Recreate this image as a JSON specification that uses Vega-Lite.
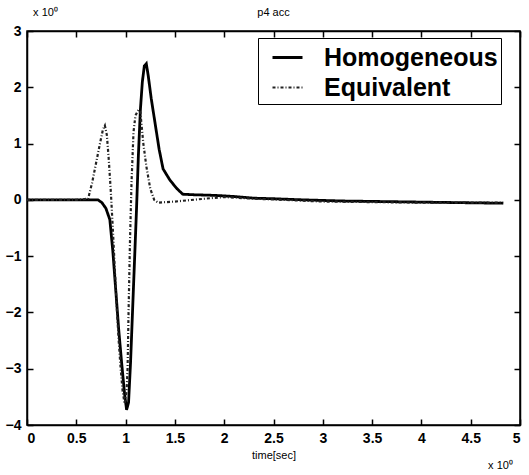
{
  "$schema": "https://vega.github.io/schema/vega-lite/v6.json",
  "width": 493,
  "height": 394,
  "autosize": "none",
  "padding": {"left": 27, "top": 31, "right": 9, "bottom": 50},
  "background": "white",
  "config": {
    "view": {"stroke": "black", "strokeWidth": 1.5},
    "font": "Liberation Sans",
    "axis": {"grid": false, "domainColor": "black", "domainWidth": 1.5, "tickColor": "black", "tickWidth": 1.5, "tickSize": -6, "labelColor": "black", "labelFont": "Liberation Sans", "labelFontSize": 14, "labelFontWeight": "bold", "titleFont": "Liberation Sans", "titleFontWeight": "normal", "titleColor": "black", "titleFontSize": 11}
  },
  "title": {"text": "p4 acc", "fontSize": 11, "fontWeight": "normal", "font": "Liberation Sans", "color": "black", "offset": -12, "anchor": "middle"},
  "data": {"values": [
    {"series": "Homogeneous", "t": 0, "v": 0},
    {"series": "Homogeneous", "t": 0.5, "v": 0},
    {"series": "Homogeneous", "t": 0.72, "v": 0},
    {"series": "Homogeneous", "t": 0.76, "v": -0.05},
    {"series": "Homogeneous", "t": 0.8, "v": -0.15},
    {"series": "Homogeneous", "t": 0.84, "v": -0.35},
    {"series": "Homogeneous", "t": 0.87, "v": -0.9},
    {"series": "Homogeneous", "t": 0.9, "v": -1.6},
    {"series": "Homogeneous", "t": 0.93, "v": -2.3},
    {"series": "Homogeneous", "t": 0.96, "v": -2.9},
    {"series": "Homogeneous", "t": 0.99, "v": -3.45},
    {"series": "Homogeneous", "t": 1.01, "v": -3.73},
    {"series": "Homogeneous", "t": 1.03, "v": -3.6},
    {"series": "Homogeneous", "t": 1.05, "v": -2.9},
    {"series": "Homogeneous", "t": 1.07, "v": -2.0},
    {"series": "Homogeneous", "t": 1.09, "v": -1.1},
    {"series": "Homogeneous", "t": 1.11, "v": -0.2},
    {"series": "Homogeneous", "t": 1.13, "v": 0.8},
    {"series": "Homogeneous", "t": 1.15, "v": 1.6},
    {"series": "Homogeneous", "t": 1.17, "v": 2.1},
    {"series": "Homogeneous", "t": 1.19, "v": 2.38},
    {"series": "Homogeneous", "t": 1.21, "v": 2.42},
    {"series": "Homogeneous", "t": 1.23, "v": 2.2},
    {"series": "Homogeneous", "t": 1.26, "v": 1.8},
    {"series": "Homogeneous", "t": 1.3, "v": 1.35},
    {"series": "Homogeneous", "t": 1.34, "v": 0.9},
    {"series": "Homogeneous", "t": 1.38, "v": 0.55},
    {"series": "Homogeneous", "t": 1.45, "v": 0.35},
    {"series": "Homogeneous", "t": 1.52, "v": 0.2},
    {"series": "Homogeneous", "t": 1.58, "v": 0.1},
    {"series": "Homogeneous", "t": 1.7, "v": 0.09},
    {"series": "Homogeneous", "t": 1.9, "v": 0.08},
    {"series": "Homogeneous", "t": 2.1, "v": 0.06},
    {"series": "Homogeneous", "t": 2.3, "v": 0.03},
    {"series": "Homogeneous", "t": 2.5, "v": 0.02},
    {"series": "Homogeneous", "t": 2.8, "v": 0.0},
    {"series": "Homogeneous", "t": 3.2, "v": -0.02},
    {"series": "Homogeneous", "t": 3.6, "v": -0.03},
    {"series": "Homogeneous", "t": 4.0, "v": -0.04},
    {"series": "Homogeneous", "t": 4.4, "v": -0.05},
    {"series": "Homogeneous", "t": 4.83, "v": -0.06},
    {"series": "Equivalent", "t": 0, "v": 0},
    {"series": "Equivalent", "t": 0.5, "v": 0},
    {"series": "Equivalent", "t": 0.62, "v": 0.02},
    {"series": "Equivalent", "t": 0.66, "v": 0.3},
    {"series": "Equivalent", "t": 0.7, "v": 0.65},
    {"series": "Equivalent", "t": 0.74, "v": 1.0},
    {"series": "Equivalent", "t": 0.77, "v": 1.25},
    {"series": "Equivalent", "t": 0.79, "v": 1.32},
    {"series": "Equivalent", "t": 0.81, "v": 1.15},
    {"series": "Equivalent", "t": 0.83, "v": 0.7},
    {"series": "Equivalent", "t": 0.85, "v": 0.15},
    {"series": "Equivalent", "t": 0.87, "v": -0.5},
    {"series": "Equivalent", "t": 0.89, "v": -1.2},
    {"series": "Equivalent", "t": 0.91, "v": -1.9},
    {"series": "Equivalent", "t": 0.93, "v": -2.5},
    {"series": "Equivalent", "t": 0.95, "v": -3.0},
    {"series": "Equivalent", "t": 0.97, "v": -3.4},
    {"series": "Equivalent", "t": 0.99, "v": -3.62},
    {"series": "Equivalent", "t": 1.01, "v": -3.4},
    {"series": "Equivalent", "t": 1.02, "v": -3.0},
    {"series": "Equivalent", "t": 1.03, "v": -2.0},
    {"series": "Equivalent", "t": 1.045, "v": -0.7},
    {"series": "Equivalent", "t": 1.06, "v": 0.3},
    {"series": "Equivalent", "t": 1.08, "v": 1.2},
    {"series": "Equivalent", "t": 1.1, "v": 1.5},
    {"series": "Equivalent", "t": 1.13, "v": 1.6},
    {"series": "Equivalent", "t": 1.15, "v": 1.55},
    {"series": "Equivalent", "t": 1.18, "v": 1.0},
    {"series": "Equivalent", "t": 1.21, "v": 0.6},
    {"series": "Equivalent", "t": 1.25, "v": 0.2},
    {"series": "Equivalent", "t": 1.29, "v": 0.0},
    {"series": "Equivalent", "t": 1.33, "v": -0.05},
    {"series": "Equivalent", "t": 1.5, "v": -0.03},
    {"series": "Equivalent", "t": 1.8, "v": 0.02},
    {"series": "Equivalent", "t": 2.0, "v": 0.05},
    {"series": "Equivalent", "t": 2.3, "v": 0.02},
    {"series": "Equivalent", "t": 2.6, "v": 0.0},
    {"series": "Equivalent", "t": 3.0, "v": -0.03},
    {"series": "Equivalent", "t": 3.5, "v": -0.04},
    {"series": "Equivalent", "t": 4.0, "v": -0.05},
    {"series": "Equivalent", "t": 4.83, "v": -0.05}
  ]},
  "layer": [
    {
      "mark": {"type": "line", "interpolate": "linear"},
      "encoding": {
        "x": {"field": "t", "type": "quantitative", "scale": {"domain": [0, 5], "nice": false}, "axis": {"values": [0, 0.5, 1, 1.5, 2, 2.5, 3, 3.5, 4, 4.5, 5], "format": "~g", "labelPadding": 12, "title": "time[sec]", "titlePadding": 4}},
        "y": {"field": "v", "type": "quantitative", "scale": {"domain": [-4, 3], "nice": false}, "axis": {"values": [-4, -3, -2, -1, 0, 1, 2, 3], "format": "~g", "labelPadding": 12, "title": "x 10⁰", "titleAngle": 0, "titleX": 18, "titleY": -19, "titleAlign": "center", "titleBaseline": "middle"}},
        "color": {"field": "series", "type": "nominal", "sort": ["Homogeneous", "Equivalent"], "scale": {"domain": ["Homogeneous", "Equivalent"], "range": ["#000000", "#222222"]}, "title": null},
        "strokeDash": {"field": "series", "type": "nominal", "sort": ["Homogeneous", "Equivalent"], "scale": {"domain": ["Homogeneous", "Equivalent"], "range": [[1, 0], [3, 2, 1, 2]]}, "title": null},
        "strokeWidth": {"field": "series", "type": "nominal", "sort": ["Homogeneous", "Equivalent"], "scale": {"domain": ["Homogeneous", "Equivalent"], "range": [2.8, 2.2]}, "title": null, "legend": {"orient": "none", "legendX": 231, "legendY": 7, "strokeColor": "black", "fillColor": "white", "padding": 3, "symbolOffset": 10, "symbolType": "stroke", "symbolSize": 900, "labelFontSize": 25, "labelFontWeight": "bold", "labelFont": "Liberation Sans", "labelColor": "black", "labelLimit": 400, "rowPadding": -3, "labelOffset": 20, "symbolStrokeColor": "black"}}
      }
    },
    {
      "mark": {"type": "line", "strokeOpacity": 0},
      "encoding": {
        "x": {"field": "t", "type": "quantitative", "scale": {"domain": [0, 5], "nice": false}, "axis": {"orient": "top", "values": [0, 0.5, 1, 1.5, 2, 2.5, 3, 3.5, 4, 4.5, 5], "labels": false, "title": "x 10⁰", "titleAngle": 0, "titleX": 473, "titleY": 434, "titleAlign": "center", "titleBaseline": "middle"}},
        "y": {"field": "v", "type": "quantitative", "scale": {"domain": [-4, 3], "nice": false}, "axis": {"orient": "right", "values": [-4, -3, -2, -1, 0, 1, 2, 3], "labels": false, "title": null}},
        "detail": {"field": "series", "type": "nominal"}
      }
    }
  ],
  "resolve": {"axis": {"x": "independent", "y": "independent"}}
}
